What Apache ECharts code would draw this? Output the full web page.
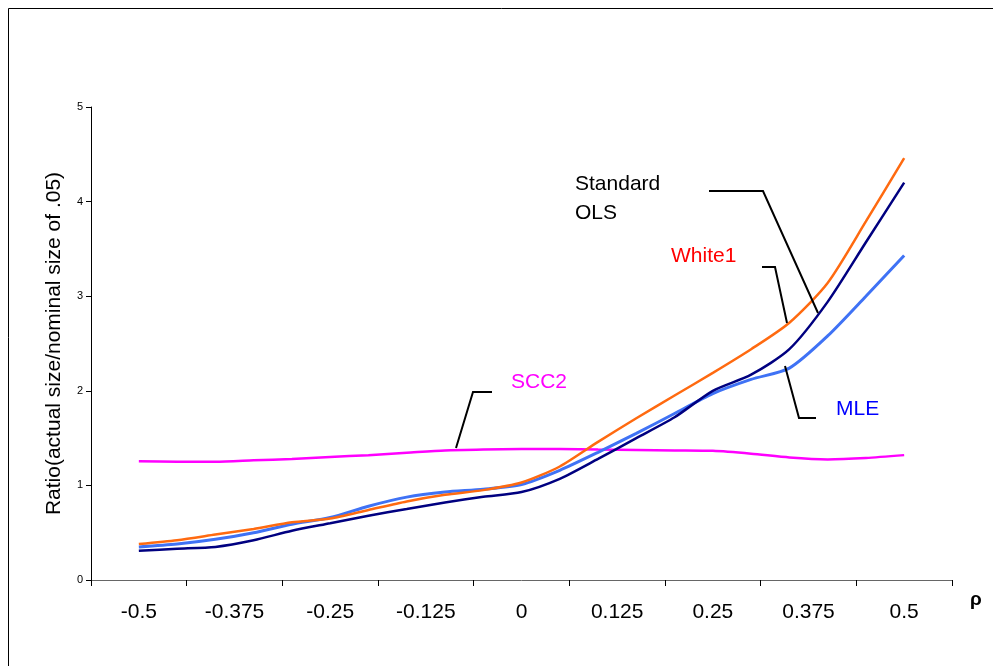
<!DOCTYPE html>
<html>
<head>
<meta charset="utf-8">
<script src="https://cdn.jsdelivr.net/npm/echarts@6/dist/echarts.min.js"></script>
<style>
html,body{margin:0;padding:0;background:#fff;}
#chart{width:993px;height:666px;}
</style>
</head>
<body>
<div id="chart"></div>
<script>
var xLabels = ['-0.5','-0.375','-0.25','-0.125','0','0.125','0.25','0.375','0.5'];
var rho = [-0.5,-0.45,-0.4,-0.35,-0.3,-0.25,-0.2,-0.15,-0.1,-0.05,0,0.05,0.1,0.15,0.2,0.25,0.3,0.35,0.4,0.45,0.5];
var standardOLS = [0.31,0.33,0.35,0.42,0.52,0.60,0.68,0.75,0.82,0.88,0.93,1.07,1.28,1.50,1.72,2.00,2.17,2.44,2.94,3.57,4.20];
var white1 = [0.38,0.42,0.48,0.54,0.61,0.65,0.74,0.83,0.90,0.95,1.03,1.20,1.46,1.71,1.95,2.19,2.44,2.72,3.14,3.79,4.46];
var mle = [0.35,0.38,0.43,0.50,0.59,0.66,0.78,0.876,0.93,0.96,1.01,1.16,1.35,1.55,1.76,1.97,2.12,2.24,2.58,3.00,3.43];
var scc2 = [1.255,1.25,1.25,1.265,1.28,1.30,1.32,1.345,1.37,1.38,1.385,1.385,1.38,1.375,1.37,1.365,1.335,1.295,1.275,1.29,1.32];
var yTicks = [0,1,2,3,4,5];

function pairs(vals){ return rho.map(function(r,i){ return [r, vals[i]]; }); }

var chart = echarts.init(document.getElementById('chart'), null, {renderer:'canvas'});
var font = 'Arial, "Liberation Sans", sans-serif';
function mkSeries(name, vals, color, width){
  return {name:name, type:'line', xAxisIndex:1, yAxisIndex:0, data:pairs(vals), smooth:0.25,
    showSymbol:false, symbol:'none', lineStyle:{color:color, width:width}, z:3, animation:false};
}
chart.setOption({
  animation:false,
  grid:{left:91, right:41, top:107, bottom:86},
  xAxis:[
    {type:'category', data:xLabels, boundaryGap:true, position:'bottom',
     axisLine:{onZero:false, lineStyle:{color:'#666', width:1}},
     axisTick:{show:true, length:6, lineStyle:{color:'#000'}},
     axisLabel:{color:'#000', fontSize:21, fontFamily:font, margin:22},
     splitLine:{show:false},
     name:'ρ', nameLocation:'end', nameGap:18,
     nameTextStyle:{fontSize:19, fontWeight:'bold', fontFamily:font, color:'#000', verticalAlign:'top', padding:[10,0,0,0]}},
    {type:'value', min:-0.5625, max:0.5625, show:false, position:'bottom', axisLine:{onZero:false}}
  ],
  yAxis:[{type:'value', min:yTicks[0], max:yTicks[yTicks.length-1], interval:1,
    axisLine:{show:true, onZero:false, lineStyle:{color:'#000'}},
    axisTick:{show:true, length:5, lineStyle:{color:'#000'}},
    axisLabel:{color:'#000', fontSize:11, fontFamily:font, margin:8},
    splitLine:{show:false},
    name:'Ratio(actual size/nominal size of .05)', nameLocation:'middle', nameGap:26, nameRotate:90,
    nameTextStyle:{fontSize:21, fontFamily:font, color:'#000'}}],
  series:[
    mkSeries('SCC2', scc2, '#FF00FF', 2.5),
    mkSeries('MLE', mle, '#3F72F5', 3),
    mkSeries('White1', white1, '#FF6A10', 2.5),
    mkSeries('Standard OLS', standardOLS, '#000080', 2.5)
  ],
  graphic:[
    {type:'rect', shape:{x:8.5, y:8.5, width:1000, height:700}, style:{fill:'none', stroke:'#000', lineWidth:1}, silent:true},
    {type:'polyline', shape:{points:[[709,191],[763,191],[818,313]]}, style:{stroke:'#000', lineWidth:2, fill:'none'}, z:10},
    {type:'polyline', shape:{points:[[762,267],[775,267],[787,323]]}, style:{stroke:'#000', lineWidth:2, fill:'none'}, z:10},
    {type:'polyline', shape:{points:[[785,366],[799,418],[816,418]]}, style:{stroke:'#000', lineWidth:2, fill:'none'}, z:10},
    {type:'polyline', shape:{points:[[456,448],[473,392],[492,392]]}, style:{stroke:'#000', lineWidth:2, fill:'none'}, z:10},
    {type:'text', left:575, top:170, style:{text:'Standard\nOLS', fill:'#000', font:'21px '+font, lineHeight:29}, z:10},
    {type:'text', left:671, top:246, style:{text:'White1', fill:'#FF0000', font:'21px '+font}, z:10},
    {type:'text', left:511, top:372, style:{text:'SCC2', fill:'#FF00FF', font:'21px '+font}, z:10},
    {type:'text', left:836, top:399, style:{text:'MLE', fill:'#0000FF', font:'21px '+font}, z:10}
  ]
});
</script>
</body>
</html>
